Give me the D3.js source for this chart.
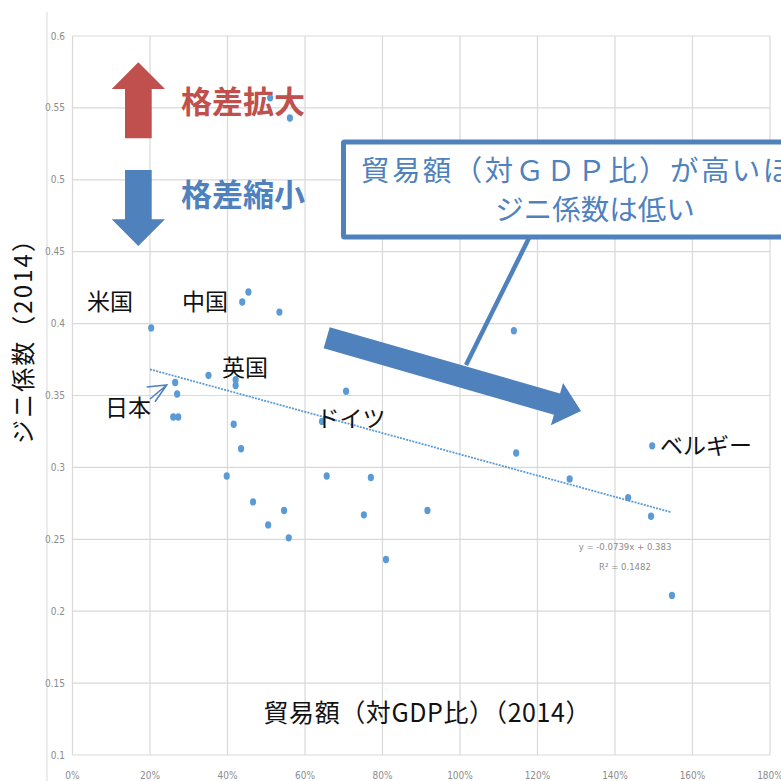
<!DOCTYPE html>
<html><head><meta charset="utf-8">
<script src="https://cdn.jsdelivr.net/npm/d3@7"></script>
<style>
html,body{margin:0;padding:0;background:#fff;}
svg{display:block;}
</style></head>
<body>
<svg id="c" width="781" height="781"></svg>
<script>
// ---- data ----
const tradeRatio = [0.203,0.454,0.438,0.534,0.510,0.561,0.351,0.265,0.270,0.260,0.273,0.421,0.421,0.706,0.644,0.416,0.435,0.398,0.656,0.770,0.466,0.546,0.505,0.752,0.558,0.916,0.809,1.139,1.145,1.283,1.434,1.493,1.496,1.547];
const giniIndex  = [0.397,0.422,0.415,0.408,0.557,0.543,0.364,0.359,0.351,0.335,0.335,0.361,0.357,0.353,0.332,0.330,0.313,0.294,0.294,0.293,0.276,0.270,0.260,0.267,0.251,0.270,0.236,0.395,0.310,0.292,0.279,0.266,0.315,0.211];
const xTicks = [0,0.2,0.4,0.6,0.8,1.0,1.2,1.4,1.6,1.8];
const xTickLabels = ["0%","20%","40%","60%","80%","100%","120%","140%","160%","180%"];
const yTicks = [0.1,0.15,0.2,0.25,0.3,0.35,0.4,0.45,0.5,0.55,0.6];
const yTickLabels = ["0.1","0.15","0.2","0.25","0.3","0.35","0.4","0.45","0.5","0.55","0.6"];
const trendSlope = -0.0739, trendIntercept = 0.383;
const trendRange = [0.2, 1.545];
const countryNames = ["米国","中国","英国","日本","ドイツ","ベルギー"];
const xTitle = "貿易額（対GDP比）（2014）";
const yTitle = "ジニ係数（2014）";
const upText = "格差拡大", downText = "格差縮小";
const boxLines = ["貿易額（対ＧＤＰ比）が高いほど","ジニ係数は低い"];
const eqText = ["y = -0.0739x + 0.383","R² = 0.1482"];

// ---- layout ----
const svg = d3.select("#c");
const x = d3.scaleLinear().domain([0,1.8]).range([72.5,770]);
const y = d3.scaleLinear().domain([0.1,0.6]).range([755,36]);
const gridCol = "#D9D9D9", blue = "#4F81BD", red = "#C0504D", dot = "#5B9BD5";
const tickFont = "'Liberation Sans Narrow','DejaVu Sans Condensed',sans-serif";
const jp = "'Noto Sans CJK JP','Noto Sans',sans-serif";

// outer frame line
svg.append("line").attr("x1",47).attr("x2",47).attr("y1",12).attr("y2",781)
  .attr("stroke",gridCol).attr("stroke-width",1);

// grid
const g = svg.append("g");
g.selectAll("line.h").data(yTicks).join("line").attr("class","h")
  .attr("x1",x(0)).attr("x2",x(1.8)).attr("y1",d=>y(d)).attr("y2",d=>y(d))
  .attr("stroke",gridCol).attr("stroke-width",1.2);
g.selectAll("line.v").data(xTicks).join("line").attr("class","v")
  .attr("y1",y(0.1)).attr("y2",y(0.6)).attr("x1",d=>x(d)).attr("x2",d=>x(d))
  .attr("stroke",gridCol).attr("stroke-width",1.2);

// tick labels
svg.append("g").selectAll("text").data(yTicks).join("text")
  .attr("x",65).attr("y",d=>y(d)).attr("dy","0.35em").attr("text-anchor","end")
  .attr("font-family",tickFont).attr("font-size",10).attr("fill","#8C8C8C")
  .text((d,i)=>yTickLabels[i]);
svg.append("g").selectAll("text").data(xTicks).join("text")
  .attr("x",d=>x(d)).attr("y",775).attr("dy","0.35em").attr("text-anchor","middle")
  .attr("font-family",tickFont).attr("font-size",10).attr("fill","#8C8C8C")
  .text((d,i)=>xTickLabels[i]);

// trendline
svg.append("line")
  .attr("x1",x(trendRange[0])).attr("y1",y(trendSlope*trendRange[0]+trendIntercept))
  .attr("x2",x(trendRange[1])).attr("y2",y(trendSlope*trendRange[1]+trendIntercept))
  .attr("stroke",dot).attr("stroke-width",1.8).attr("stroke-dasharray","2,1.2");
svg.append("g").selectAll("text").data(eqText).join("text")
  .attr("x",625).attr("y",(d,i)=>547+i*20).attr("dy","0.35em").attr("text-anchor","middle")
  .attr("font-family",tickFont).attr("font-size",9.5).attr("fill","#8C8C8C")
  .text(d=>d);

// points
svg.append("g").selectAll("ellipse").data(tradeRatio).join("ellipse")
  .attr("cx",d=>x(d)).attr("cy",(d,i)=>y(giniIndex[i]))
  .attr("rx",3.1).attr("ry",3.7).attr("fill",dot);

// country labels (layout positions)
const labelPos = [[110,302],[205,302],[245,368],[128,408],[351,419],[706,446]];
svg.append("g").selectAll("text").data(countryNames).join("text")
  .attr("x",(d,i)=>labelPos[i][0]).attr("y",(d,i)=>labelPos[i][1]).attr("dy","0.36em")
  .attr("text-anchor","middle").attr("font-family",jp).attr("font-size",23).attr("fill","#111")
  .text(d=>d);

// Japan pointer arrow
svg.append("path").attr("d","M146.7,387 L166.7,385 L155,401.7 M166.7,385 L150,399")
  .attr("fill","none").attr("stroke",blue).attr("stroke-width",1.6);

// axis titles
svg.append("text").attr("transform","translate(23,336) rotate(-90)").attr("dy","0.36em")
  .attr("text-anchor","middle").attr("font-family",jp).attr("font-size",24).attr("fill","#111")
  .attr("textLength",216).attr("lengthAdjust","spacing").text(yTitle);
svg.append("text").attr("x",427).attr("y",713).attr("dy","0.36em")
  .attr("text-anchor","middle").attr("font-family",jp).attr("font-size",25).attr("fill","#111")
  .attr("textLength",327).attr("lengthAdjust","spacing").text(xTitle);

// up / down arrows
svg.append("path").attr("d","M138.3,62.3 L165,89 L151.7,89 L151.7,138.3 L125,138.3 L125,89 L111.7,89 Z").attr("fill",red);
svg.append("path").attr("d","M125,170 L151.7,170 L151.7,219.3 L165,219.3 L138.3,246 L111.7,219.3 L125,219.3 Z").attr("fill",blue);
svg.append("text").attr("x",181).attr("y",101.5).attr("dy","0.36em").attr("font-family",jp)
  .attr("font-weight","bold").attr("font-size",31).attr("fill",red).text(upText);
svg.append("text").attr("x",181).attr("y",195).attr("dy","0.36em").attr("font-family",jp)
  .attr("font-weight","bold").attr("font-size",31).attr("fill",blue).text(downText);

// big diagonal arrow
(function(){
  const S=[326.7,337.8], T=[581,411];
  const dx=T[0]-S[0], dy=T[1]-S[1], L=Math.hypot(dx,dy);
  const u=[dx/L,dy/L], n=[-u[1],u[0]];
  const sw=11, hw=22, hl=25;
  const B=[T[0]-hl*u[0],T[1]-hl*u[1]];
  const p=(c,a,b)=>[c[0]+a*n[0]+b*u[0], c[1]+a*n[1]+b*u[1]];
  const pts=[p(S,-sw,0),p(B,-sw,0),p(B,-hw,0),T,p(B,hw,0),p(B,sw,0),p(S,sw,0)];
  svg.append("path").attr("d","M"+pts.map(q=>q.join(",")).join("L")+"Z").attr("fill",blue);
})();

// pointer line from box
svg.append("line").attr("x1",529).attr("y1",238).attr("x2",466).attr("y2",365)
  .attr("stroke",blue).attr("stroke-width",4.5);

// text box
svg.append("rect").attr("x",343.5).attr("y",142).attr("width",500).attr("height",95)
  .attr("fill","#fff").attr("stroke",blue).attr("stroke-width",5).attr("rx",1);
svg.append("text").attr("x",361).attr("y",170.5).attr("dy","0.36em").attr("font-family",jp)
  .attr("font-size",28.5).attr("letter-spacing",2.4).attr("fill",blue).text(boxLines[0]);
svg.append("text").attr("x",595).attr("y",210).attr("dy","0.36em").attr("text-anchor","middle")
  .attr("font-family",jp).attr("font-size",28.5).attr("fill",blue).text(boxLines[1]);
</script>
</body></html>
